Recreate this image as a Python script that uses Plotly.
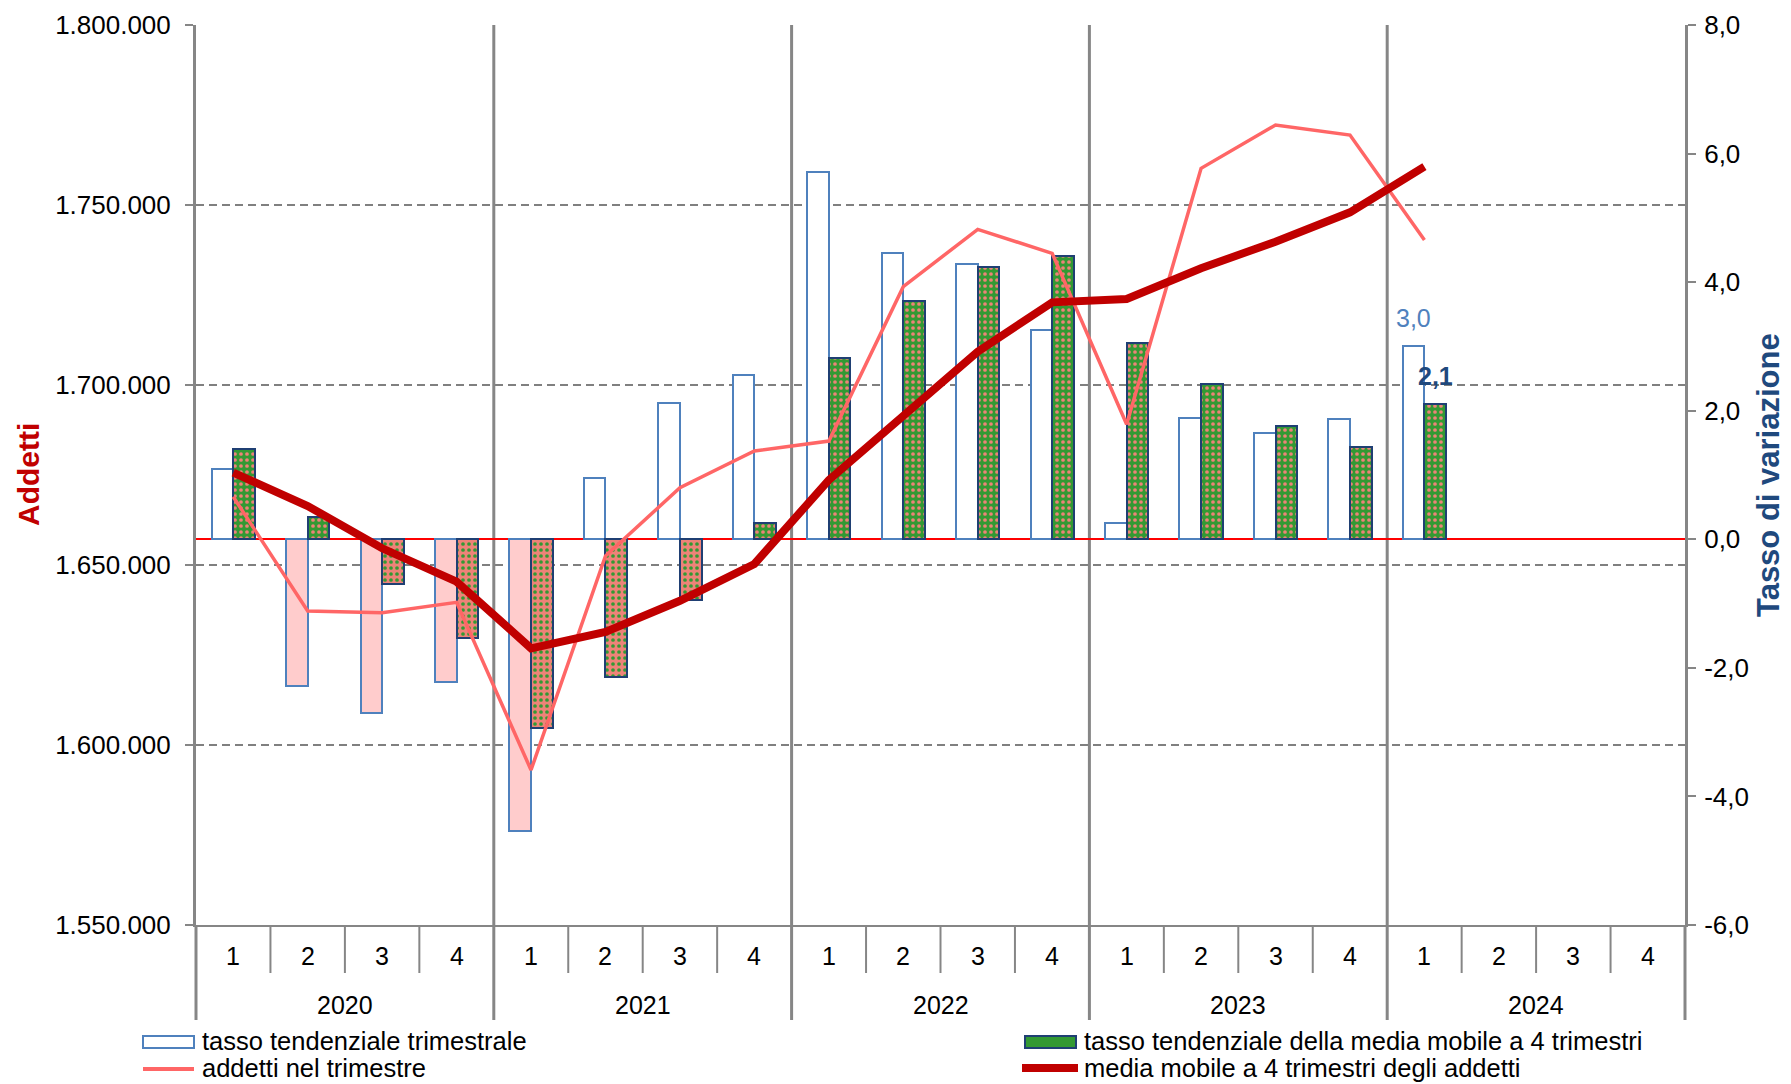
import plotly.graph_objects as go

# ---------------- data ----------------
quarter_labels = ["1", "2", "3", "4"] * 5
years = ["2020", "2021", "2022", "2023", "2024"]

# tasso tendenziale trimestrale (%)
tasso_trimestrale = [1.10, -2.28, -2.70, -2.22,
                     -4.54, 0.96, 2.12, 2.56,
                     5.71, 4.46, 4.28, 3.26,
                     0.25, 1.89, 1.65, 1.87,
                     3.0, None, None, None]
# tasso tendenziale della media mobile a 4 trimestri (%)
tasso_media_mobile = [1.40, 0.34, -0.69, -1.54,
                      -2.93, -2.14, -0.95, 0.26,
                      2.82, 3.70, 4.24, 4.41,
                      3.05, 2.41, 1.76, 1.43,
                      2.1, None, None, None]
# addetti nel trimestre
addetti = [1668970, 1637220, 1636750, 1639630,
           1593055, 1652500, 1671470, 1681670,
           1684440, 1727310, 1743240, 1736570,
           1689080, 1760190, 1772220, 1769440,
           1740280, None, None, None]
# media mobile a 4 trimestri degli addetti
media_mobile = [1675640, 1666390, 1654640, 1645360,
                1626860, 1631400, 1640060, 1650280,
                1673610, 1691670, 1709260, 1722960,
                1723890, 1732410, 1739820, 1747960,
                1760650, None, None, None]

left_ticks = [1550000, 1600000, 1650000, 1700000, 1750000, 1800000]
left_grid = [1600000, 1650000, 1700000, 1750000]
right_ticks = [-6, -4, -2, 0, 2, 4, 6, 8]

series_names = ["tasso tendenziale trimestrale",
                "tasso tendenziale della media mobile a 4 trimestri",
                "addetti nel trimestre",
                "media mobile a 4 trimestri degli addetti"]

# ---------------- styling ----------------
FONT = "Liberation Sans, Arial, sans-serif"
GRAY = "#868686"
BLUE_LINE = "#4F81BD"
NAVY = "#1F3F73"
GREEN = "#339933"
SALMON = "#EE8378"
PINK = "#FFCCCC"
LIGHT_RED = "#FF6666"
DARK_RED = "#C00000"
BAR_W = 0.29

# page body has an 8px default margin: compensate so the plot lands where intended
BODY = 8
FIG_W, FIG_H = 1791 - BODY, 1084 - BODY
PLOT_L, PLOT_T, PLOT_R, PLOT_B = 196, 25, 1685, 925  # target page pixels
PLOT_W = PLOT_R - PLOT_L
PLOT_H = PLOT_B - PLOT_T

n = len(quarter_labels)
xc = [i + 0.5 for i in range(n)]


def fmt_it(v):
    return f"{v:.1f}".replace(".", ",")


def fmt_thousands(v):
    return f"{v:,d}".replace(",", ".")


def pxx(x):  # page px -> paper x
    return (x - PLOT_L) / PLOT_W


def pyy(y):  # page px -> paper y
    return (PLOT_B - y) / PLOT_H


fig = go.Figure()

# bars (primary y, right side)
fig.add_trace(go.Bar(
    x=xc, y=tasso_trimestrale, name=series_names[0],
    width=BAR_W, offset=-BAR_W,
    marker=dict(color=[("white" if (v is not None and v >= 0) else PINK) for v in tasso_trimestrale],
                line=dict(color=BLUE_LINE, width=2)),
    yaxis="y", showlegend=False, hoverinfo="skip"))

# moving-average growth: positive and negative bars styled separately (invert if negative)
mm_pos = [v if (v is not None and v >= 0) else None for v in tasso_media_mobile]
mm_neg = [v if (v is not None and v < 0) else None for v in tasso_media_mobile]
for vals, bgc, fgc in ((mm_pos, GREEN, SALMON), (mm_neg, SALMON, GREEN)):
    fig.add_trace(go.Bar(
        x=xc, y=vals, name=series_names[1],
        width=BAR_W, offset=0,
        marker=dict(color=bgc, line=dict(color=NAVY, width=2),
                    pattern=dict(shape=".", fgcolor=fgc, bgcolor=bgc, size=6,
                                 solidity=0.3, fillmode="replace")),
        yaxis="y", showlegend=False, hoverinfo="skip"))

# lines (secondary y, left side, drawn above bars)
fig.add_trace(go.Scatter(
    x=xc, y=addetti, name=series_names[2], mode="lines",
    line=dict(color=LIGHT_RED, width=3.5), yaxis="y2",
    showlegend=False, hoverinfo="skip"))
fig.add_trace(go.Scatter(
    x=xc, y=media_mobile, name=series_names[3], mode="lines",
    line=dict(color=DARK_RED, width=8), yaxis="y2",
    showlegend=False, hoverinfo="skip"))

# ---------------- shapes ----------------
shapes = []
for g in left_grid:
    shapes.append(dict(type="line", xref="paper", yref="y2", x0=0, x1=1, y0=g, y1=g,
                       line=dict(color="#808080", width=2, dash="8px,5px"), layer="below"))

for k in range(n + 1):
    xp = k / n
    if k % 4 == 0:
        y_top = 1 if 0 < k < n else 0
        shapes.append(dict(type="line", xref="paper", yref="paper", x0=xp, x1=xp,
                           y0=pyy(PLOT_B + 95), y1=y_top, line=dict(color=GRAY, width=3), layer="below"))
    else:
        shapes.append(dict(type="line", xref="paper", yref="paper", x0=xp, x1=xp,
                           y0=pyy(PLOT_B + 48), y1=0, line=dict(color=GRAY, width=2), layer="below"))

# manual legend symbols
shapes.append(dict(type="rect", xref="paper", yref="paper", x0=pxx(143), x1=pxx(194),
                   y0=pyy(1048), y1=pyy(1036), fillcolor="white",
                   line=dict(color=BLUE_LINE, width=2)))
shapes.append(dict(type="line", xref="paper", yref="paper", x0=pxx(143), x1=pxx(194),
                   y0=pyy(1069), y1=pyy(1069), line=dict(color=LIGHT_RED, width=4)))
shapes.append(dict(type="rect", xref="paper", yref="paper", x0=pxx(1025), x1=pxx(1076),
                   y0=pyy(1048), y1=pyy(1036), fillcolor=GREEN,
                   line=dict(color=NAVY, width=2)))
shapes.append(dict(type="line", xref="paper", yref="paper", x0=pxx(1022), x1=pxx(1078),
                   y0=pyy(1068), y1=pyy(1068), line=dict(color=DARK_RED, width=8)))

# ---------------- annotations ----------------
ann = []
for i, q in enumerate(quarter_labels):
    ann.append(dict(x=xc[i], y=pyy(956), xref="x", yref="paper", text=q, showarrow=False,
                    xanchor="center", yanchor="middle", font=dict(size=25, color="black", family=FONT)))
for j, yr in enumerate(years):
    ann.append(dict(x=4 * j + 2, y=pyy(1005), xref="x", yref="paper", text=yr, showarrow=False,
                    xanchor="center", yanchor="middle", font=dict(size=25, color="black", family=FONT)))

last = max(i for i, v in enumerate(tasso_trimestrale) if v is not None)
ann.append(dict(x=xc[last] - BAR_W / 2, y=tasso_trimestrale[last], xref="x", yref="y",
                text=fmt_it(tasso_trimestrale[last]), showarrow=False, xanchor="center",
                yanchor="bottom", yshift=12, font=dict(size=25, color=BLUE_LINE, family=FONT)))
ann.append(dict(x=xc[last] + BAR_W / 2, y=tasso_media_mobile[last], xref="x", yref="y",
                text="<b>" + fmt_it(tasso_media_mobile[last]) + "</b>", showarrow=False,
                xanchor="center", yanchor="bottom", yshift=12,
                font=dict(size=25, color="#1F497D", family=FONT)))

ann.append(dict(x=pxx(28), y=0.5, xref="paper", yref="paper", text="<b>Addetti</b>",
                textangle=-90, showarrow=False, xanchor="center", yanchor="middle",
                font=dict(size=30, color=DARK_RED, family=FONT)))
ann.append(dict(x=pxx(1768), y=0.5, xref="paper", yref="paper", text="<b>Tasso di variazione</b>",
                textangle=-90, showarrow=False, xanchor="center", yanchor="middle",
                font=dict(size=31, color="#1F497D", family=FONT)))

leg_pos = [(200, 1041), (1082, 1041), (200, 1068), (1082, 1068)]
for name, (lx, ly) in zip(series_names, leg_pos):
    ann.append(dict(x=pxx(lx), y=pyy(ly), xref="paper", yref="paper", text=name,
                    showarrow=False, xanchor="left", yanchor="middle",
                    font=dict(size=25.5, color="black", family=FONT)))

fig.update_layout(
    width=FIG_W, height=FIG_H,
    margin=dict(l=PLOT_L - BODY, r=FIG_W - (PLOT_R - BODY), t=PLOT_T - BODY,
                b=FIG_H - (PLOT_B - BODY), pad=0, autoexpand=False),
    paper_bgcolor="white", plot_bgcolor="rgba(0,0,0,0)",
    font=dict(family=FONT, size=25, color="black"),
    showlegend=False,
    bargap=0, barmode="overlay",
    xaxis=dict(range=[0, n], showticklabels=False, ticks="", showgrid=False, automargin=False,
               zeroline=False, showline=True, linecolor=GRAY, linewidth=2, fixedrange=True),
    yaxis=dict(side="right", range=[right_ticks[0], right_ticks[-1]], automargin=False,
               tickvals=right_ticks, ticktext=[fmt_it(v) for v in right_ticks],
               ticks="outside", ticklen=8, tickwidth=2, tickcolor=GRAY,
               showline=True, linecolor=GRAY, linewidth=3, showgrid=False,
               zeroline=True, zerolinecolor="#FF0000", zerolinewidth=2,
               tickfont=dict(size=26, color="black", family=FONT), ticklabelstandoff=3,
               fixedrange=True),
    yaxis2=dict(side="left", overlaying="y", range=[left_ticks[0], left_ticks[-1]],
                automargin=False,
                tickvals=left_ticks, ticktext=[fmt_thousands(v) for v in left_ticks],
                ticks="outside", ticklen=8, tickwidth=2, tickcolor=GRAY,
                showline=True, linecolor=GRAY, linewidth=3, showgrid=False, zeroline=False,
                tickfont=dict(size=26, color="black", family=FONT), ticklabelstandoff=9,
                fixedrange=True),
    shapes=shapes,
    annotations=ann,
)

fig.write_html("out.html")
